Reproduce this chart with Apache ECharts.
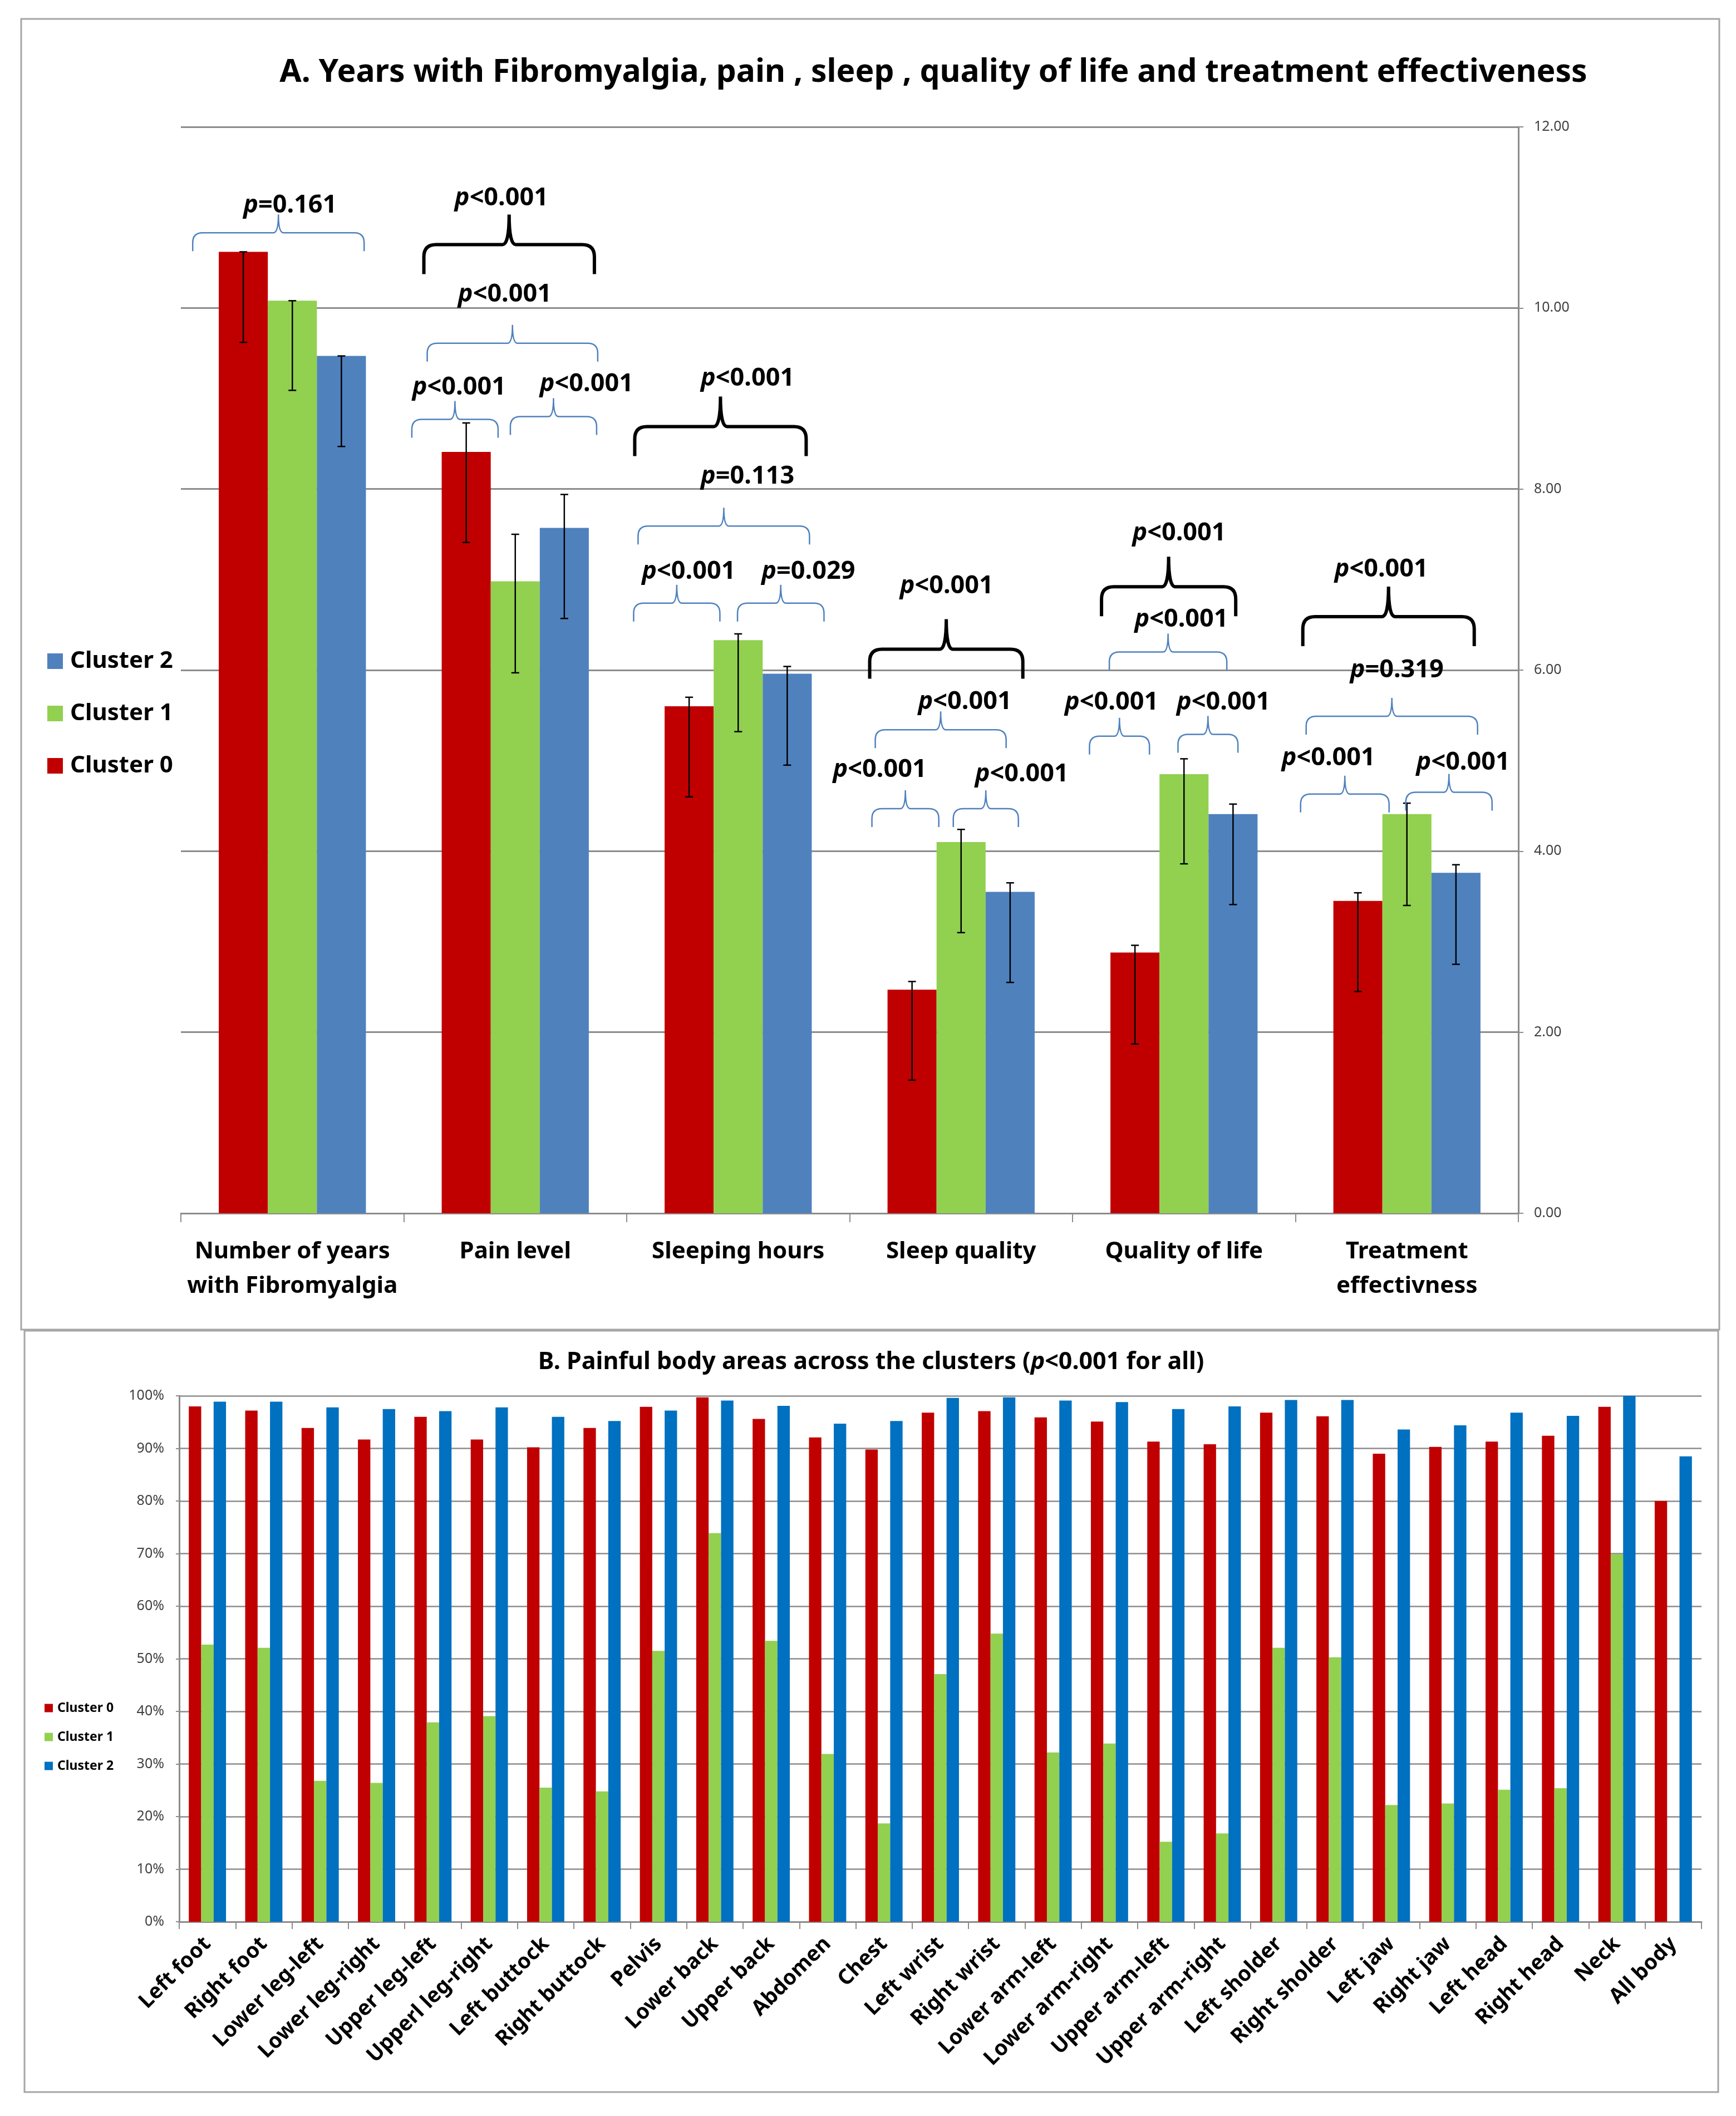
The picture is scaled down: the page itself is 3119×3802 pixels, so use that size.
<!DOCTYPE html>
<html>
<head>
<meta charset="utf-8">
<script src="https://cdn.jsdelivr.net/npm/echarts@6/dist/echarts.min.js"></script>
<style>
html, body { margin: 0; padding: 0; background: #fff; }
#main { width: 3119px; height: 3802px; }
</style>
</head>
<body>
<div id="main"></div>
<script>
var FONT = '"Noto Sans", "Open Sans", sans-serif';

// --- panel A: means and error bars
var measures = ['Number of years\nwith Fibromyalgia', 'Pain level', 'Sleeping hours', 'Sleep quality', 'Quality of life', 'Treatment\neffectivness'];
var meanC0 = [10.62, 8.41, 5.60, 2.47, 2.88, 3.45];
var meanC1 = [10.08, 6.98, 6.33, 4.10, 4.85, 4.41];
var meanC2 = [9.47, 7.57, 5.96, 3.55, 4.41, 3.76];
var errLowC0 = [9.62, 7.41, 4.60, 1.47, 1.87, 2.45];
var errLowC1 = [9.09, 5.97, 5.32, 3.10, 3.86, 3.40];
var errLowC2 = [8.47, 6.57, 4.95, 2.55, 3.41, 2.75];
var errHighC0 = [10.62, 8.73, 5.70, 2.56, 2.96, 3.54];
var errHighC1 = [10.08, 7.50, 6.40, 4.24, 5.02, 4.53];
var errHighC2 = [9.47, 7.94, 6.04, 3.65, 4.52, 3.85];

// significance braces: [category, from, to (band fraction), level, black?, label, label dx, label y]
var braces = [
	[0, -0.447, 0.322, 10.83, 0, 'p=0.161', -0.010, 11.13],
	[1, -0.410, 0.355, 10.70, 1, 'p<0.001', -0.062, 11.21],
	[1, -0.395, 0.370, 9.61, 0, 'p<0.001', -0.047, 10.15],
	[1, -0.464, -0.077, 8.77, 0, 'p<0.001', -0.252, 9.12],
	[1, -0.022, 0.365, 8.80, 0, 'p<0.001', 0.320, 9.16],
	[2, -0.464, 0.305, 8.69, 1, 'p<0.001', 0.042, 9.22],
	[2, -0.449, 0.320, 7.59, 0, 'p=0.113', 0.042, 8.14],
	[2, -0.469, -0.082, 6.74, 0, 'p<0.001', -0.222, 7.09],
	[2, -0.003, 0.385, 6.74, 0, 'p=0.029', 0.315, 7.09],
	[3, -0.410, 0.277, 6.23, 1, 'p<0.001', -0.065, 6.93],
	[3, -0.385, 0.202, 5.34, 0, 'p<0.001', 0.017, 5.65],
	[3, -0.400, -0.100, 4.47, 0, 'p<0.001', -0.365, 4.90],
	[3, -0.035, 0.257, 4.47, 0, 'p<0.001', 0.272, 4.85],
	[4, -0.370, 0.232, 6.92, 1, 'p<0.001', -0.022, 7.51],
	[4, -0.335, 0.192, 6.20, 0, 'p<0.001', -0.012, 6.56],
	[4, -0.424, -0.155, 5.27, 0, 'p<0.001', -0.325, 5.64],
	[4, -0.027, 0.242, 5.29, 0, 'p<0.001', 0.177, 5.64],
	[5, -0.467, 0.302, 6.59, 1, 'p<0.001', -0.115, 7.11],
	[5, -0.452, 0.317, 5.49, 0, 'p=0.319', -0.045, 6.00],
	[5, -0.477, -0.080, 4.63, 0, 'p<0.001', -0.352, 5.03],
	[5, -0.005, 0.382, 4.65, 0, 'p<0.001', 0.252, 4.98]
];

// --- panel B: % with pain per body area
var areas = ['Left foot', 'Right foot', 'Lower leg-left', 'Lower leg-right', 'Upper leg-left', 'Upperl leg-right',
	'Left buttock', 'Right buttock', 'Pelvis', 'Lower back', 'Upper back', 'Abdomen', 'Chest', 'Left wrist',
	'Right wrist', 'Lower arm-left', 'Lower arm-right', 'Upper arm-left', 'Upper arm-right', 'Left sholder',
	'Right sholder', 'Left jaw', 'Right jaw', 'Left head', 'Right head', 'Neck', 'All body'];
var pctC0 = [98.0, 97.2, 93.9, 91.7, 96.0, 91.7, 90.2, 93.9, 97.9, 99.7, 95.6, 92.1, 89.8, 96.8, 97.1, 95.9, 95.1, 91.3, 90.8, 96.8, 96.1, 89.0, 90.3, 91.3, 92.4, 97.9, 80.0];
var pctC1 = [52.7, 52.1, 26.8, 26.4, 37.9, 39.1, 25.5, 24.8, 51.5, 73.9, 53.4, 31.9, 18.7, 47.1, 54.8, 32.2, 33.9, 15.2, 16.8, 52.1, 50.3, 22.2, 22.5, 25.1, 25.4, 69.9, 0];
var pctC2 = [98.9, 98.9, 97.8, 97.5, 97.1, 97.8, 96.0, 95.2, 97.2, 99.1, 98.1, 94.7, 95.2, 99.6, 99.7, 99.1, 98.8, 97.5, 98.0, 99.2, 99.2, 93.6, 94.4, 96.8, 96.2, 100, 88.5];

var colA = ['#C00000', '#92D050', '#4F81BD'];
var colB = ['#C00000', '#92D050', '#0070C0'];
var GRID_GRAY = '#8C8C8C';
var BAR_GAP = 0.34;

var errLow = [errLowC0, errLowC1, errLowC2];
var errHigh = [errHighC0, errHighC1, errHighC2];
var errData = [];
for (var k = 0; k < 3; k++) {
	for (var i = 0; i < measures.length; i++) {
		errData.push([i, errLow[k][i], errHigh[k][i], k]);
	}
}

function renderErr(params, api) {
	var cat = api.value(0), k = api.value(3);
	var lo = api.coord([cat, api.value(1)]);
	var hi = api.coord([cat, api.value(2)]);
	var band = api.size([1, 0])[0];
	var bw = band * (1 - BAR_GAP) / 3;
	var x = lo[0] + (k - 1) * bw;
	var cap = 7;
	function st() { return { stroke: '#000', lineWidth: 2.5 }; }
	return {
		type: 'group',
		children: [
			{ type: 'line', shape: { x1: x, y1: hi[1], x2: x, y2: lo[1] }, style: st() },
			{ type: 'line', shape: { x1: x - cap, y1: hi[1], x2: x + cap, y2: hi[1] }, style: st() },
			{ type: 'line', shape: { x1: x - cap, y1: lo[1], x2: x + cap, y2: lo[1] }, style: st() }
		]
	};
}

function renderBrace(params, api) {
	var b = braces[params.dataIndex];
	var black = b[4] === 1;
	var c = api.coord([b[0], b[3]]);
	var band = api.size([1, 0])[0];
	var x0 = c[0] + b[1] * band, x1 = c[0] + b[2] * band, y = c[1];
	var xm = (x0 + x1) / 2;
	var h = black ? 53 : 33;   // drop of the ends
	var t = black ? 54 : 33;   // tip height
	var r = black ? 22 : 18;
	var r2 = black ? 12 : 9;
	var d = 'M' + x0 + ' ' + (y + h) +
		' L' + x0 + ' ' + (y + r) +
		' Q' + x0 + ' ' + y + ' ' + (x0 + r) + ' ' + y +
		' L' + (xm - r2) + ' ' + y +
		' Q' + xm + ' ' + y + ' ' + xm + ' ' + (y - t) +
		' Q' + xm + ' ' + y + ' ' + (xm + r2) + ' ' + y +
		' L' + (x1 - r) + ' ' + y +
		' Q' + x1 + ' ' + y + ' ' + x1 + ' ' + (y + r) +
		' L' + x1 + ' ' + (y + h);
	var ty = api.coord([b[0], b[7]])[1];
	return {
		type: 'group',
		children: [
			{
				type: 'path',
				shape: { pathData: d },
				style: { fill: 'none', stroke: black ? '#000' : '#4F81BD', lineWidth: black ? 6 : 2.5 }
			},
			{
				type: 'text',
				x: c[0] + b[6] * band,
				y: ty,
				style: {
					text: '{i|p}{n|' + b[5].slice(1) + '}',
					align: 'center',
					verticalAlign: 'middle',
					rich: {
						i: { fontFamily: FONT, fontSize: 45, fontWeight: 'bold', fontStyle: 'italic', fill: '#000' },
						n: { fontFamily: FONT, fontSize: 45, fontWeight: 'bold', fill: '#000' }
					}
				},
				z2: 10
			}
		]
	};
}

function barsA(name, data, color) {
	return {
		name: name, type: 'bar', xAxisIndex: 0, yAxisIndex: 0,
		data: data, barGap: 0, barCategoryGap: '34%',
		itemStyle: { color: color }
	};
}
function barsB(name, data, color) {
	return {
		name: name, type: 'bar', xAxisIndex: 1, yAxisIndex: 1,
		data: data, barGap: 0, barCategoryGap: '34%',
		itemStyle: { color: color }
	};
}

var chart = echarts.init(document.getElementById('main'));
chart.setOption({
	animation: false,
	backgroundColor: '#fff',
	textStyle: { fontFamily: FONT },
	title: [{
		text: 'A. Years with Fibromyalgia, pain , sleep , quality of life and treatment effectiveness',
		left: 1672, top: 92, textAlign: 'center',
		textStyle: { fontFamily: FONT, fontSize: 57, fontWeight: 'bold', color: '#000', lineHeight: 68 }
	}, {
		text: 'B. Painful body areas across the clusters ({i|p}<0.001 for all)',
		left: 1560, top: 2417, textAlign: 'center',
		textStyle: {
			fontFamily: FONT, fontSize: 43, fontWeight: 'bold', color: '#000', lineHeight: 52,
			rich: { i: { fontFamily: FONT, fontSize: 43, fontWeight: 'bold', fontStyle: 'italic', color: '#000', lineHeight: 52 } }
		}
	}],
	legend: [{
		orient: 'vertical', left: 80, top: 1158,
		itemWidth: 28, itemHeight: 28, itemGap: 44,
		icon: 'rect',
		data: [
			{ name: 'Cluster 2', itemStyle: { color: colA[2] } },
			{ name: 'Cluster 1', itemStyle: { color: colA[1] } },
			{ name: 'Cluster 0', itemStyle: { color: colA[0] } }
		],
		textStyle: { fontFamily: FONT, fontSize: 42, fontWeight: 'bold', color: '#000', lineHeight: 50, padding: [0, 0, 0, 8] },
		selectedMode: false
	}, {
		orient: 'vertical', left: 75, top: 3050,
		itemWidth: 15, itemHeight: 15, itemGap: 24,
		icon: 'rect',
		data: [
			{ name: 'Cluster 0', itemStyle: { color: colB[0] } },
			{ name: 'Cluster 1', itemStyle: { color: colB[1] } },
			{ name: 'Cluster 2', itemStyle: { color: colB[2] } }
		],
		textStyle: { fontFamily: FONT, fontSize: 23, fontWeight: 'bold', color: '#000', lineHeight: 28, padding: [0, 0, 0, 3] },
		selectedMode: false
	}],
	grid: [
		{ left: 325, right: 391, top: 228, bottom: 1622 },
		{ left: 322, right: 62, top: 2508, bottom: 349 }
	],
	xAxis: [{
		type: 'category', gridIndex: 0, data: measures,
		axisLine: { lineStyle: { color: GRID_GRAY, width: 3 } },
		axisTick: { show: true, length: 16, interval: 0, lineStyle: { color: GRID_GRAY, width: 2 } },
		axisLabel: { interval: 0, margin: 38, fontFamily: FONT, fontSize: 42, fontWeight: 'bold', color: '#000', lineHeight: 62 }
	}, {
		type: 'category', gridIndex: 1, data: areas,
		axisLine: { lineStyle: { color: GRID_GRAY, width: 3 } },
		axisTick: { show: true, length: 13, interval: 0, lineStyle: { color: GRID_GRAY, width: 2 } },
		axisLabel: { interval: 0, rotate: 45, margin: 34, fontFamily: FONT, fontSize: 38, fontWeight: 'bold', color: '#000' }
	}],
	yAxis: [{
		type: 'value', gridIndex: 0, position: 'right', min: 0, max: 12, interval: 2,
		axisLine: { show: true, lineStyle: { color: GRID_GRAY, width: 3 } },
		axisTick: { show: true, length: 9, lineStyle: { color: GRID_GRAY, width: 2 } },
		splitLine: { lineStyle: { color: GRID_GRAY, width: 3 } },
		axisLabel: { margin: 28, fontFamily: FONT, fontSize: 25, color: '#404040', formatter: function (v) { return v.toFixed(2); } }
	}, {
		type: 'value', gridIndex: 1, position: 'left', min: 0, max: 100, interval: 10,
		axisLine: { show: true, lineStyle: { color: GRID_GRAY, width: 3 } },
		axisTick: { show: true, length: 6, lineStyle: { color: GRID_GRAY, width: 2 } },
		splitLine: { lineStyle: { color: GRID_GRAY, width: 2.5 } },
		axisLabel: { margin: 27, fontFamily: FONT, fontSize: 25, color: '#404040', formatter: '{value}%' }
	}],
	graphic: [
		{ type: 'rect', silent: true, z: -10, shape: { x: 38, y: 34, width: 3051, height: 2355 }, style: { fill: 'none', stroke: '#A6A6A6', lineWidth: 3 } },
		{ type: 'rect', silent: true, z: -10, shape: { x: 44, y: 2391, width: 3043, height: 1368 }, style: { fill: 'none', stroke: '#A6A6A6', lineWidth: 3 } }
	],
	series: [
		barsA('Cluster 0', meanC0, colA[0]),
		barsA('Cluster 1', meanC1, colA[1]),
		barsA('Cluster 2', meanC2, colA[2]),
		{
			type: 'custom', xAxisIndex: 0, yAxisIndex: 0, silent: true, z: 5,
			renderItem: renderErr, data: errData, encode: { x: 0, y: [1, 2] }
		},
		{
			type: 'custom', xAxisIndex: 0, yAxisIndex: 0, silent: true, z: 6,
			renderItem: renderBrace, data: braces.map(function (b) { return [b[0], b[3]]; }), encode: { x: 0, y: 1 }
		},
		barsB('Cluster 0', pctC0, colB[0]),
		barsB('Cluster 1', pctC1, colB[1]),
		barsB('Cluster 2', pctC2, colB[2])
	]
});
</script>
</body>
</html>
